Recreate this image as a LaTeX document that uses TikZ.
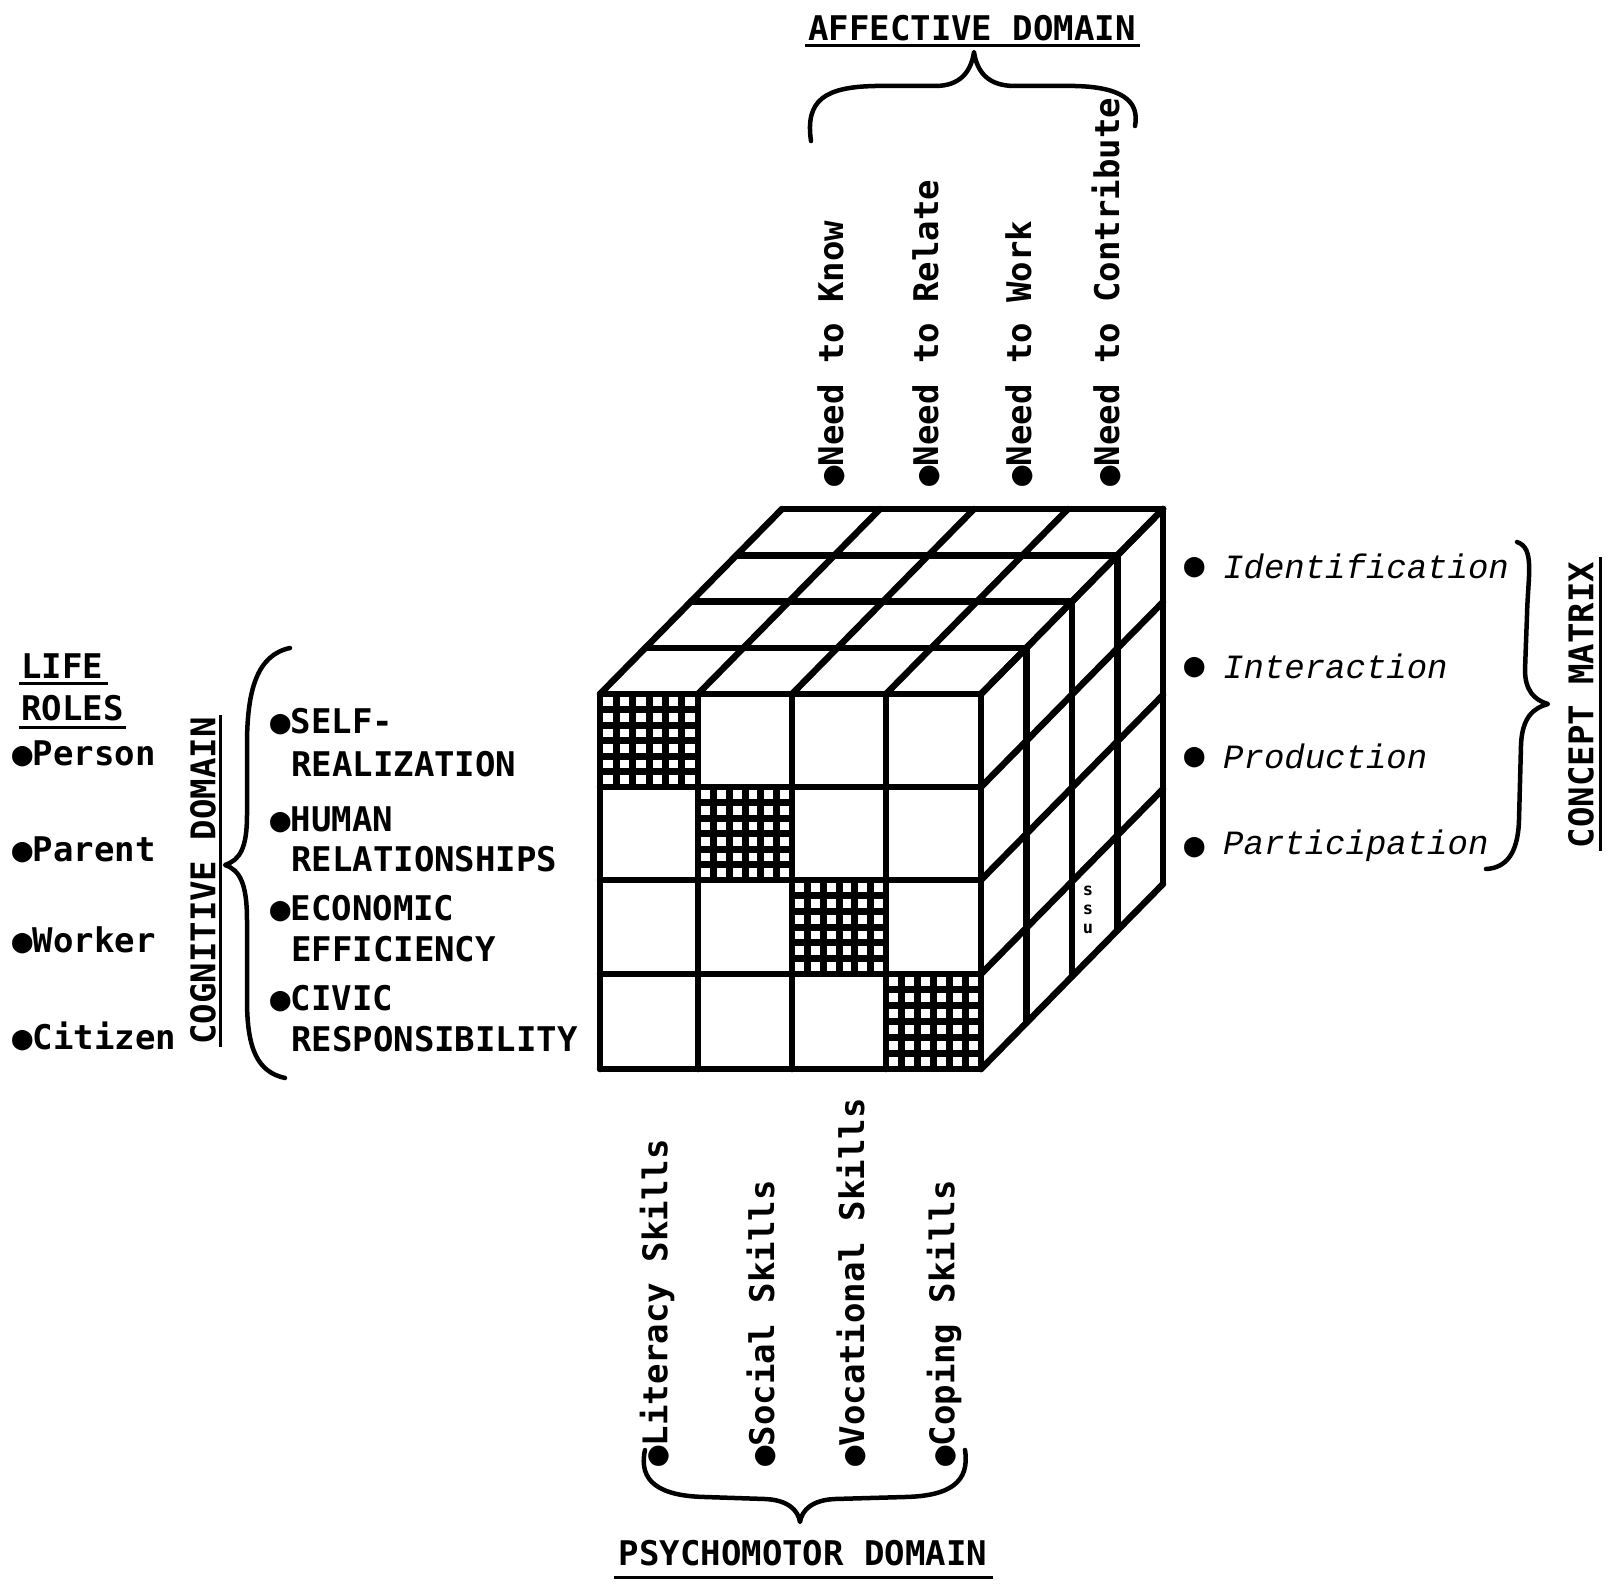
\documentclass[tikz,border=0pt]{standalone}
\usepackage{fontspec}
\newfontfamily\tw{DejaVu Sans Mono}
\newfontfamily\cmono{Liberation Mono}
\begin{document}
\begin{tikzpicture}[x=1pt,y=-1pt,
  cube/.style={line width=6.5pt, line cap=round, line join=round},
  hatch/.style={line width=7pt},
  brc/.style={line width=4.5pt, line cap=round, line join=round},
  uline/.style={line width=3pt},
  lab/.style={font={\tw\bfseries\fontsize{34}{40}\selectfont}, inner sep=0pt, anchor=west},
  ital/.style={font={\cmono\itshape\fontsize{34}{40}\selectfont}, inner sep=0pt, anchor=west},
  dot/.style={font={\tw\bfseries\fontsize{34}{40}\selectfont}, inner sep=0pt, anchor=west},
  tiny/.style={font={\tw\bfseries\fontsize{17}{17}\selectfont}, inner sep=0pt}]
\fill[white] (0,0) rectangle (1618,1584);
\useasboundingbox (0,0) rectangle (1618,1584);

% ---------------- cube ----------------
\foreach \xa/\xb/\ya/\yb in {600/698/694/787, 698/792/787/880, 792/886/880/974, 886/981/974/1069}{
  \foreach \k in {1,...,5}{
    \draw[hatch] ({\xa+\k*(\xb-\xa)/6},\ya) -- ({\xa+\k*(\xb-\xa)/6},\yb);
    \draw[hatch] (\xa,{\ya+\k*(\yb-\ya)/6}) -- (\xb,{\ya+\k*(\yb-\ya)/6});
  }
}
\foreach \x in {600,698,792,886,981} \draw[cube] (\x,694) -- (\x,1069);
\foreach \y in {694,787,880,974,1069} \draw[cube] (600,\y) -- (981,\y);
\foreach \x in {600,698,792,886,981} \draw[cube] (\x,694) -- ++(182,-185);
\foreach \k in {1,2,3,4} \draw[cube] ({600+\k*45.5},{694-\k*46.25}) -- ++(381,0);
\foreach \y in {694,787,880,974,1069} \draw[cube] (981,\y) -- ++(182,-185);
\foreach \k in {1,2,3,4} \draw[cube] ({981+\k*45.5},{694-\k*46.25}) -- ++(0,375);
\node[tiny] (ssu1) at (1088,891) {s};
\node[tiny] (ssu2) at (1088,910) {s};
\node[tiny] (ssu3) at (1088,929) {u};

% ---------------- affective domain ----------------
\node[lab, anchor=center] (aff) at (972,28) {AFFECTIVE DOMAIN};
\draw[uline] (805,46) -- (1140,46);
\coordinate (affL) at (811,141);
\coordinate (affR) at (1135,126);
\coordinate (affT) at (974,52);
\draw[brc] (affL) .. controls (805,100) and (825,87) .. (875,86) -- (935,86)
  .. controls (960,86) and (971,72) .. (affT)
  .. controls (977,72) and (988,86) .. (1015,86) -- (1075,86)
  .. controls (1120,87) and (1140,100) .. (affR);
\node[lab, rotate=90] (n1) at (831,487) {●Need to Know};
\node[lab, rotate=90] (n2) at (926,487) {●Need to Relate};
\node[lab, rotate=90] (n3) at (1019,487) {●Need to Work};
\node[lab, rotate=90] (n4) at (1106,487) {●Need to Contribute};

% ---------------- concept matrix ----------------
\node[dot] (b1) at (1184,568) {●};
\node[dot] (b2) at (1184,668) {●};
\node[dot] (b3) at (1184,758) {●};
\node[dot] (b4) at (1184,848) {●};
\node[ital] (c1) at (1223,566) {Identification};
\node[ital] (c2) at (1223,666) {Interaction};
\node[ital] (c3) at (1223,756) {Production};
\node[ital] (c4) at (1223,846) {Participation};
\coordinate (conT) at (1517,542);
\coordinate (conB) at (1486,869);
\coordinate (conP) at (1548,704);
\draw[brc] (conT) .. controls (1535,548) and (1528,575) .. (1527,615) -- (1525,670)
  .. controls (1525,690) and (1534,700) .. (conP)
  .. controls (1533,708) and (1522,718) .. (1521,745) -- (1519,820)
  .. controls (1518,855) and (1505,868) .. (conB);
\node[lab, rotate=90, anchor=center] (cm) at (1581,705) {CONCEPT MATRIX};
\draw[uline] (1600,557) -- (1600,851);

% ---------------- psychomotor domain ----------------
\node[lab, rotate=90] (p1) at (657,1467) {●Literacy Skills};
\node[lab, rotate=90] (p2) at (761,1467) {●Social Skills};
\node[lab, rotate=90] (p3) at (851,1467) {●Vocational Skills};
\node[lab, rotate=90] (p4) at (944,1467) {●Coping Skills};
\coordinate (psL) at (645,1450);
\coordinate (psR) at (965,1450);
\coordinate (psT) at (800,1522);
\draw[brc] (psL) .. controls (638,1482) and (660,1496) .. (705,1497) -- (765,1499)
  .. controls (788,1500) and (798,1510) .. (psT)
  .. controls (802,1510) and (812,1500) .. (835,1499) -- (905,1497)
  .. controls (950,1496) and (970,1482) .. (psR);
\node[lab, anchor=center] (psy) at (803,1553) {PSYCHOMOTOR DOMAIN};
\draw[uline] (614,1577) -- (993,1577);

% ---------------- life roles ----------------
\node[lab] (life) at (21,666) {LIFE};
\draw[uline] (19,683) -- (108,683);
\node[lab] (roles) at (21,708) {ROLES};
\draw[uline] (19,727) -- (126,727);
\node[lab] (r1) at (12,754) {●Person};
\node[lab] (r2) at (12,850) {●Parent};
\node[lab] (r3) at (12,940) {●Worker};
\node[lab] (r4) at (12,1036) {●Citizen};

% ---------------- cognitive domain ----------------
\node[lab, rotate=90, anchor=center] (cog) at (203,881) {COGNITIVE DOMAIN};
\draw[uline] (220,715) -- (220,1047);
\coordinate (cogT) at (290,648);
\coordinate (cogB) at (285,1078);
\coordinate (cogP) at (225,865);
\draw[brc] (cogT) .. controls (257,655) and (247,690) .. (247,745) -- (247,815)
  .. controls (247,848) and (240,860) .. (cogP)
  .. controls (240,870) and (247,884) .. (247,920) -- (247,1000)
  .. controls (247,1050) and (258,1072) .. (cogB);
\node[lab] (k1) at (270,722) {●SELF-};
\node[lab] (k1b) at (291,764) {REALIZATION};
\node[lab] (k2) at (270,820) {●HUMAN};
\node[lab] (k2b) at (291,859) {RELATIONSHIPS};
\node[lab] (k3) at (270,909) {●ECONOMIC};
\node[lab] (k3b) at (291,949) {EFFICIENCY};
\node[lab] (k4) at (270,999) {●CIVIC};
\node[lab] (k4b) at (291,1039) {RESPONSIBILITY};
\end{tikzpicture}
\end{document}
